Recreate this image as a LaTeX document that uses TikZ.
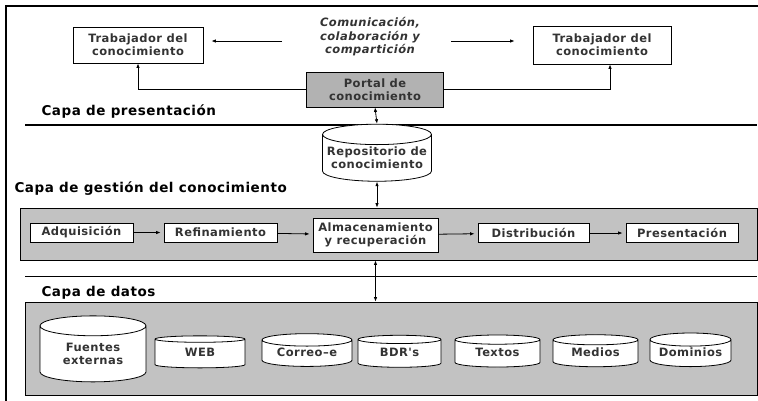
\documentclass[tikz,border=0pt]{standalone}
\usepackage{fontspec}
\setsansfont{DejaVu Sans}
\newfontfamily\cajafont[LetterSpace=4]{DejaVu Sans}
\usetikzlibrary{arrows.meta,shapes.geometric,positioning}

\newcommand{\baja}[2][4pt]{\raisebox{-#1}{\begin{tabular}{@{}c@{}}#2\end{tabular}}}

\tikzset{
  caja/.style={draw,thick,fill=white,font=\cajafont\bfseries\fontsize{11.5}{13}\selectfont,
    text=black!80,inner sep=1pt,align=center},
  cilindro/.style={cylinder,shape border rotate=90,draw,thick,fill=white,aspect=0.2,
    font=\cajafont\bfseries\fontsize{11.5}{13}\selectfont,text=black!80,inner sep=1pt},
  banda/.style={draw,thick,fill=black!24,inner sep=0pt},
  capa/.style={anchor=west,font=\cajafont\bfseries\fontsize{13.5}{15}\selectfont},
  flecha/.style={-{Latex[length=4.5pt,width=3.5pt]},thick},
  doble/.style={{Latex[length=4.5pt,width=3.5pt]}-{Latex[length=4.5pt,width=3.5pt]},thick}
}

\begin{document}
\begin{tikzpicture}[x=1pt,y=-1pt]
\useasboundingbox (0,0) rectangle (758,400);
\draw[line width=2pt] (6,401) -- (6,6) -- (759,6);

% capa de presentacion
\node[caja,minimum width=130pt,minimum height=36pt] (trabL) at (138,45) {Trabajador del\\conocimiento};
\node[caja,minimum width=138pt,minimum height=38pt] (trabR) at (602,45) {Trabajador del\\conocimiento};
\node[font=\cajafont\bfseries\itshape\fontsize{11.5}{13.5}\selectfont,align=center,text=black!80] (comm) at (370,37) {Comunicación,\\colaboración y\\compartición};
\node[caja,fill=black!30,minimum width=137pt,minimum height=35pt] (portal) at (375,89.5) {Portal de\\conocimiento};
\coordinate (cl) at (282,41);
\coordinate (cr) at (451,41);
\draw[flecha,shorten >=8pt] (cl) -- (cl -| trabL.east);
\draw[flecha,shorten >=18pt] (cr) -- (cr -| trabR.west);
\draw[flecha] (portal.west) -| (trabL.south);
\draw[flecha] (portal.east) -| ([xshift=8pt]trabR.south);
\node[capa] (presL) at (38,111) {Capa de presentación};
\draw[line width=1.6pt] (25,125) -- (757,125);

% capa de gestion
\node[cilindro,minimum width=109pt,minimum height=48pt] (repo) at (377,159) {\baja[4pt]{Repositorio de\\conocimiento}};
\draw[doble] (portal.south) -- (repo.north);
\node[capa] (gestL) at (11,189) {Capa de gestión del conocimiento};
\node[banda,minimum width=737pt,minimum height=52pt] (gband) at (388.5,234) {};
\draw[doble] (repo.south) -- (repo |- gband.north);
\node[caja,minimum width=103pt,minimum height=19pt] (adq) at (81.5,232.5) {Adquisición};
\node[caja,minimum width=113pt,minimum height=19pt] (ref) at (220.5,232.5) {Refinamiento};
\node[caja,minimum width=125pt,minimum height=34pt] (alm) at (375.5,235) {Almacenamiento\\y recuperación};
\node[caja,minimum width=111pt,minimum height=19pt] (dist) at (533.5,233) {Distribución};
\node[caja,minimum width=112pt,minimum height=19pt] (pres) at (682,233) {Presentación};
\draw[flecha,shorten >=3pt] (adq) -- (ref);
\draw[flecha,shorten >=3pt] (ref) -- (alm);
\draw[flecha,shorten >=3pt] (alm) -- (dist);
\draw[flecha,shorten >=3pt] (dist) -- (pres);
\draw[thick] (25,276) -- (757,276);

% capa de datos
\node[capa] (datL) at (38,293) {Capa de datos};
\node[banda,minimum width=732pt,minimum height=93pt] (dband) at (391,348.5) {};
\draw[doble] (alm |- gband.south) -- (alm |- dband.north);
\node[cilindro,aspect=0.32,minimum width=106pt,minimum height=66pt] (fuentes) at (93,355) {\baja[8pt]{Fuentes\\externas}};
\node[cilindro,minimum width=90pt,minimum height=32pt] (web) at (200,354) {\baja[2pt]{WEB}};
\node[cilindro,minimum width=90pt,minimum height=32pt] (correo) at (307,354) {\baja[2pt]{Correo–e}};
\node[cilindro,minimum width=83pt,minimum height=32pt] (bdr) at (399.5,354) {\baja[2pt]{BDR's}};
\node[cilindro,minimum width=85pt,minimum height=32pt] (textos) at (497.5,354) {\baja[2pt]{Textos}};
\node[cilindro,minimum width=85pt,minimum height=32pt] (medios) at (595.5,354) {\baja[2pt]{Medios}};
\node[cilindro,minimum width=81pt,minimum height=32pt] (dominios) at (690.5,354) {\baja[2pt]{Dominios}};
\end{tikzpicture}
\end{document}
